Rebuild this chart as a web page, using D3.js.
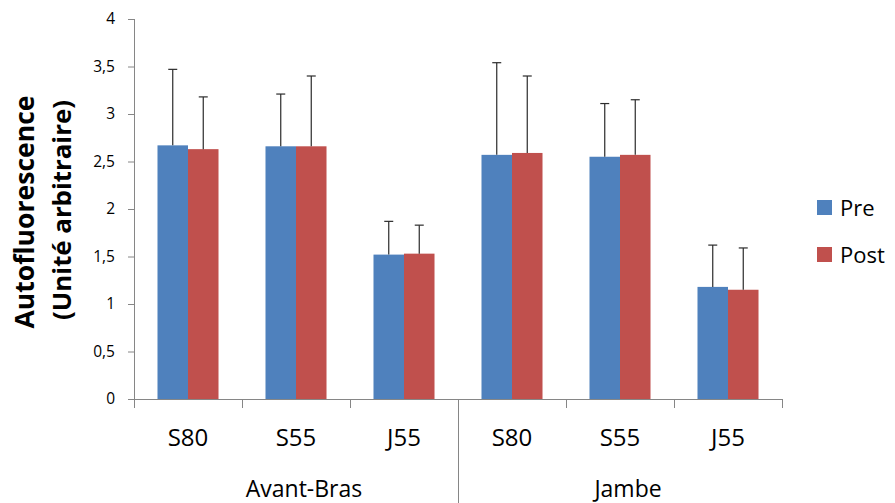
<!DOCTYPE html>
<html>
<head>
<meta charset="utf-8">
<script src="https://cdn.jsdelivr.net/npm/d3@7"></script>
<style>
  html, body { margin: 0; padding: 0; background: #fff; }
  svg { display: block; font-family: "Open Sans", sans-serif; }
</style>
</head>
<body>
<svg id="chart" width="895" height="503"></svg>
<script>
// ---- data ----
const categories = ["S80", "S55", "J55", "S80", "S55", "J55"];
const groups = ["Avant-Bras", "Jambe"];
const groupSizes = [3, 3];
const series = ["Pre", "Post"];
const preValues = [2.67, 2.66, 1.52, 2.57, 2.55, 1.18];
const postValues = [2.63, 2.66, 1.53, 2.59, 2.57, 1.15];
const preErrors = [0.80, 0.55, 0.35, 0.97, 0.56, 0.44];
const postErrors = [0.55, 0.74, 0.30, 0.81, 0.58, 0.44];
const yTicks = [0, 0.5, 1, 1.5, 2, 2.5, 3, 3.5, 4];
const yTitle = ["Autofluorescence", "(Unité arbitraire)"];

const colors = { Pre: "#4F81BD", Post: "#C0504D" };
const axisColor = "#868686";

const svg = d3.select("#chart");
const pLeft = 134, pRight = 782, pTop = 19, pBottom = 399;

const x = d3.scaleBand().domain(d3.range(categories.length)).range([pLeft, pRight]).padding(0);
const xInner = d3.scaleBand().domain(series).range([0, x.bandwidth()]).paddingInner(0).paddingOuter(0.77);
const y = d3.scaleLinear().domain([0, 4]).range([pBottom, pTop]);

const rows = categories.map((c, i) => ({
  i, cat: c,
  vals: [
    { s: "Pre", v: preValues[i], e: preErrors[i] },
    { s: "Post", v: postValues[i], e: postErrors[i] }
  ]
}));

// bars
const g = svg.append("g");
const cat = g.selectAll("g.cat").data(rows).join("g")
  .attr("transform", d => `translate(${x(d.i)},0)`);
cat.selectAll("rect").data(d => d.vals).join("rect")
  .attr("x", d => xInner(d.s))
  .attr("width", xInner.bandwidth())
  .attr("y", d => y(d.v))
  .attr("height", d => y(0) - y(d.v))
  .attr("fill", d => colors[d.s]);

// error bars (upper only)
const eb = cat.selectAll("g.err").data(d => d.vals).join("g")
  .attr("stroke", "#2b2b2b").attr("stroke-width", 1.2);
eb.append("line")
  .attr("x1", d => xInner(d.s) + xInner.bandwidth() / 2)
  .attr("x2", d => xInner(d.s) + xInner.bandwidth() / 2)
  .attr("y1", d => y(d.v))
  .attr("y2", d => y(d.v + d.e));
eb.append("line")
  .attr("x1", d => xInner(d.s) + xInner.bandwidth() / 2 - 4.5)
  .attr("x2", d => xInner(d.s) + xInner.bandwidth() / 2 + 4.5)
  .attr("y1", d => y(d.v + d.e))
  .attr("y2", d => y(d.v + d.e));

// y axis
const yAxis = d3.axisLeft(y).tickValues(yTicks).tickSize(6).tickPadding(13)
  .tickFormat(d => d3.format("~g")(d).replace(".", ","));
const ya = svg.append("g").attr("transform", `translate(${pLeft},0)`).call(yAxis);
ya.select(".domain").attr("stroke", axisColor).attr("d", `M0.5,${pTop}V${pBottom + 9}`);
ya.selectAll(".tick line").attr("stroke", axisColor);
ya.selectAll(".tick text").attr("fill", "#000").attr("font-size", 15.5)
  .attr("font-family", "'Open Sans', sans-serif");

// x axis
const xa = svg.append("g");
xa.append("line").attr("x1", pLeft).attr("x2", pRight).attr("y1", pBottom + 0.5).attr("y2", pBottom + 0.5)
  .attr("stroke", axisColor);
const boundaries = d3.range(categories.length + 1).map(i => i < categories.length ? x(i) : x(i - 1) + x.bandwidth());
let cum = 0;
const groupEdges = [0];
groupSizes.forEach(s => { cum += s; groupEdges.push(cum); });
xa.selectAll("line.tk").data(boundaries.slice(1)).join("line")
  .attr("x1", d => Math.round(d) + 0.5).attr("x2", d => Math.round(d) + 0.5)
  .attr("y1", pBottom)
  .attr("y2", (d, i) => (groupEdges.includes(i + 1) && i + 1 < categories.length) ? 503 : pBottom + 9)
  .attr("stroke", axisColor);

// category labels
xa.selectAll("text.cat").data(rows).join("text")
  .attr("x", d => x(d.i) + x.bandwidth() / 2)
  .attr("y", 446)
  .attr("text-anchor", "middle")
  .attr("font-size", 24)
  .attr("fill", "#000")
  .text(d => d.cat);

// group labels
xa.selectAll("text.grp").data(groups).join("text")
  .attr("x", (d, i) => (x(groupEdges[i]) + x(groupEdges[i + 1] - 1) + x.bandwidth()) / 2 + 8)
  .attr("y", 497)
  .attr("text-anchor", "middle")
  .attr("font-size", 23)
  .attr("fill", "#000")
  .text(d => d);

// y title
function fitText(sel, target, base) {
  const len = sel.node().getComputedTextLength();
  sel.attr("font-size", base * target / len);
}
const t1 = svg.append("text")
  .attr("transform", "translate(34,212) rotate(-90)")
  .attr("text-anchor", "middle").attr("font-weight", "bold").attr("font-size", 30)
  .attr("fill", "#000").text(yTitle[0]);
fitText(t1, 233, 30);
const t2 = svg.append("text")
  .attr("transform", "translate(71,210) rotate(-90)")
  .attr("text-anchor", "middle").attr("font-weight", "bold").attr("font-size", 30)
  .attr("fill", "#000").text(yTitle[1]);
fitText(t2, 220, 30);

// legend
const lg = svg.append("g").attr("transform", "translate(817,200)");
const li = lg.selectAll("g").data(series).join("g")
  .attr("transform", (d, i) => `translate(0,${i * 47})`);
li.append("rect").attr("width", 15).attr("height", 15).attr("fill", d => colors[d]);
li.append("text").attr("x", 23).attr("y", 16).attr("font-size", 22).attr("fill", "#000").text(d => d);
</script>
</body>
</html>
